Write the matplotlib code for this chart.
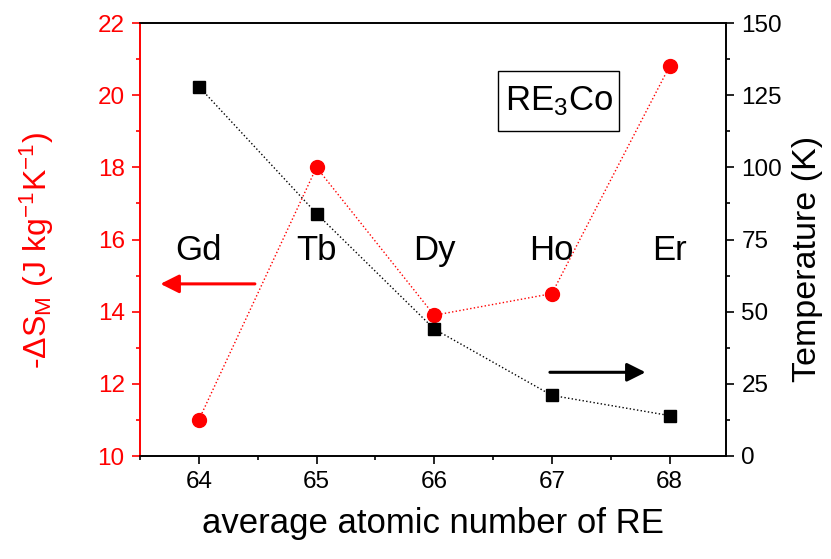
import matplotlib
matplotlib.use("Agg")
import matplotlib.pyplot as plt
from matplotlib.patches import Rectangle
from matplotlib.ticker import MultipleLocator

plt.rcParams["font.family"] = ["Liberation Sans", "DejaVu Sans"]
plt.rcParams["mathtext.fontset"] = "custom"
plt.rcParams["mathtext.rm"] = "Liberation Sans"
plt.rcParams["mathtext.it"] = "Liberation Sans"

# data
atomic_number = [64, 65, 66, 67, 68]
elements = ["Gd", "Tb", "Dy", "Ho", "Er"]
entropy = [11.0, 18.0, 13.9, 14.5, 20.8]      # -dS_M (J kg^-1 K^-1)
temperature = [128, 84, 44, 21, 14]           # K

RED = "#ff0000"

fig = plt.figure(figsize=(8.31, 5.59), dpi=100)
ax = fig.add_axes([140 / 831, 1 - 456 / 559, 586 / 831, 433 / 559])
ax2 = ax.twinx()

ax.plot(atomic_number, entropy, ":", color=RED, lw=1.0, marker="o",
        ms=10, mfc=RED, mec=RED, zorder=3)
ax2.plot(atomic_number, temperature, ":", color="black", lw=1.0, marker="s",
         ms=9, mfc="black", mec="black", zorder=3)

ax.set_xlim(63.5, 68.48)
ax.set_ylim(10, 22)
ax2.set_ylim(0, 150)

ax.xaxis.set_major_locator(MultipleLocator(1))
ax.xaxis.set_minor_locator(MultipleLocator(0.5))
ax.yaxis.set_major_locator(MultipleLocator(2))
ax.yaxis.set_minor_locator(MultipleLocator(1))
ax2.yaxis.set_major_locator(MultipleLocator(25))
ax2.yaxis.set_minor_locator(MultipleLocator(12.5))

for a in (ax, ax2):
    a.tick_params(which="both", direction="out", labelsize=17.5, pad=5)
    a.tick_params(which="major", length=6, width=1.2)
    a.tick_params(which="minor", length=3, width=1.2)
    for s in a.spines.values():
        s.set_linewidth(1.2)
ax.tick_params(axis="y", which="both", colors=RED)
ax.spines["left"].set_color(RED)
ax2.spines["left"].set_color(RED)

ax.set_xlabel("average atomic number of RE", fontsize=25, labelpad=10)
ax.set_ylabel("-\u0394S$_\\mathregular{M}$ (J kg$^\\mathregular{-1}$K$^\\mathregular{-1}$)",
              fontsize=23, color=RED)
ax.yaxis.set_label_coords(-0.143, 0.475)
ax2.set_ylabel("Temperature (K)", fontsize=24.5)
ax2.yaxis.set_label_coords(1.112, 0.455)

for xv, name in zip(atomic_number, elements):
    ax.text(xv, 15.43, name, ha="center", va="baseline", fontsize=25)

ax.annotate("", xy=(63.65, 14.77), xytext=(64.5, 14.77),
            arrowprops=dict(arrowstyle="-|>", color=RED, lw=2.2,
                            mutation_scale=28))
ax2.annotate("", xy=(67.82, 29), xytext=(66.96, 29),
             arrowprops=dict(arrowstyle="-|>", color="black", lw=2.2,
                             mutation_scale=28))

# label box in the upper right
ax.add_patch(Rectangle((0.611, 0.751), 0.206, 0.138, transform=ax.transAxes,
                       fc="white", ec="black", lw=1, zorder=4))
ax.text(0.715, 0.799, r"RE$_\mathregular{3}$Co", transform=ax.transAxes,
        ha="center", va="baseline", fontsize=25, zorder=5)

fig.savefig("out.png", dpi=100)
